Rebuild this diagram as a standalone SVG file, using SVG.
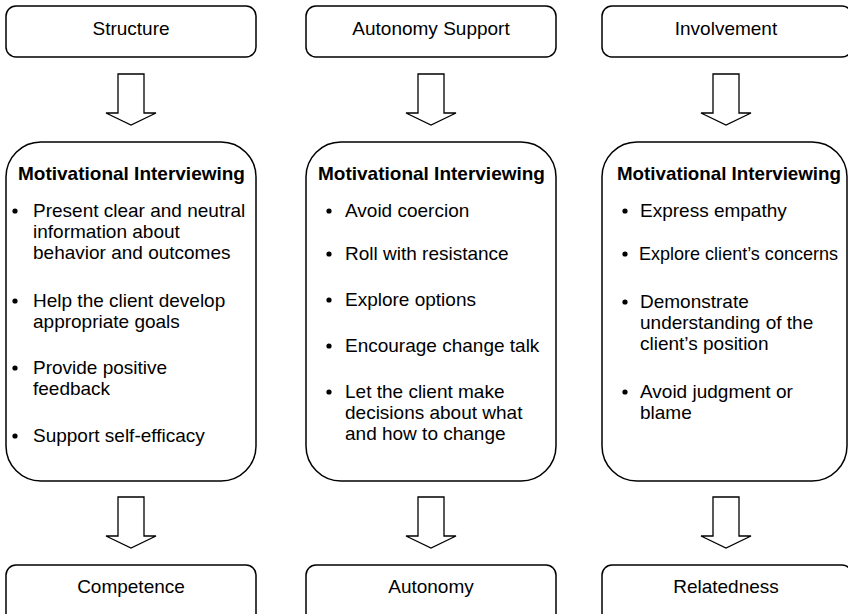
<svg xmlns="http://www.w3.org/2000/svg" width="848" height="614" viewBox="0 0 848 614">
<style>
  .box { fill: #fff; stroke: #000; stroke-width: 1.5; }
  .arrow { fill: #fff; stroke: #000; stroke-width: 1.3; stroke-linejoin: miter; }
  .lbl { font-family: "Liberation Sans", Arial, Helvetica, sans-serif; font-size: 19px; fill: #000; }
  .title { font-family: "Liberation Sans", Arial, Helvetica, sans-serif; font-size: 19px; font-weight: bold; fill: #000; }
  .c { text-anchor: middle; }
</style>
<defs>
  <path id="arr" d="M -13 0 L 13 0 L 13 39 L 25 39 L 0 51 L -25 39 L -13 39 Z"/>
</defs>
<rect width="848" height="614" fill="#fff"/>

<g id="structure">
  <rect class="box" x="6" y="6" width="250" height="51" rx="10"/>
  <text class="lbl c" x="131" y="35">Structure</text>
</g>
<g id="autonomy-support">
  <rect class="box" x="306" y="6" width="250" height="51" rx="10"/>
  <text class="lbl c" x="431" y="35">Autonomy Support</text>
</g>
<g id="involvement">
  <rect class="box" x="602" y="6" width="250" height="51" rx="10"/>
  <text class="lbl c" x="726" y="35">Involvement</text>
</g>

<g id="mi-structure">
  <rect class="box" x="6" y="142" width="250" height="339" rx="35"/>
  <text class="title" x="18" y="180">Motivational Interviewing</text>
  <g class="lbl">
    <circle cx="15" cy="211" r="2.6"/>
    <text x="33" y="217">Present clear and neutral</text>
    <text x="33" y="238">information about</text>
    <text x="33" y="259">behavior and outcomes</text>
    <circle cx="15" cy="301" r="2.6"/>
    <text x="33" y="307">Help the client develop</text>
    <text x="33" y="328">appropriate goals</text>
    <circle cx="15" cy="368" r="2.6"/>
    <text x="33" y="374">Provide positive</text>
    <text x="33" y="395">feedback</text>
    <circle cx="15" cy="436" r="2.6"/>
    <text x="33" y="442">Support self-efficacy</text>
  </g>
</g>

<g id="mi-autonomy">
  <rect class="box" x="306" y="142" width="250" height="339" rx="35"/>
  <text class="title" x="318" y="180">Motivational Interviewing</text>
  <g class="lbl">
    <circle cx="329" cy="211" r="2.6"/>
    <text x="345" y="217">Avoid coercion</text>
    <circle cx="329" cy="254" r="2.6"/>
    <text x="345" y="260">Roll with resistance</text>
    <circle cx="329" cy="300" r="2.6"/>
    <text x="345" y="306">Explore options</text>
    <circle cx="329" cy="346" r="2.6"/>
    <text x="345" y="352">Encourage change talk</text>
    <circle cx="329" cy="392" r="2.6"/>
    <text x="345" y="398">Let the client make</text>
    <text x="345" y="419">decisions about what</text>
    <text x="345" y="440">and how to change</text>
  </g>
</g>

<g id="mi-involvement">
  <rect class="box" x="602" y="142" width="245" height="339" rx="35"/>
  <text class="title" x="617" y="180" textLength="224" lengthAdjust="spacingAndGlyphs">Motivational Interviewing</text>
  <g class="lbl">
    <circle cx="625" cy="211" r="2.6"/>
    <text x="640" y="217">Express empathy</text>
    <circle cx="625" cy="254" r="2.6"/>
    <text x="639" y="260" textLength="199" lengthAdjust="spacingAndGlyphs">Explore client’s concerns</text>
    <circle cx="625" cy="302" r="2.6"/>
    <text x="640" y="308">Demonstrate</text>
    <text x="640" y="329">understanding of the</text>
    <text x="640" y="350">client’s position</text>
    <circle cx="625" cy="392" r="2.6"/>
    <text x="640" y="398">Avoid judgment or</text>
    <text x="640" y="419">blame</text>
  </g>
</g>

<g id="competence">
  <rect class="box" x="6" y="565" width="250" height="60" rx="10"/>
  <text class="lbl c" x="131" y="593">Competence</text>
</g>
<g id="autonomy">
  <rect class="box" x="306" y="565" width="250" height="60" rx="10"/>
  <text class="lbl c" x="431" y="593">Autonomy</text>
</g>
<g id="relatedness">
  <rect class="box" x="602" y="565" width="250" height="60" rx="10"/>
  <text class="lbl c" x="726" y="593">Relatedness</text>
</g>

<g id="connectors">
  <use href="#arr" class="arrow" transform="translate(131,74)"/>
  <use href="#arr" class="arrow" transform="translate(431,74)"/>
  <use href="#arr" class="arrow" transform="translate(726,74)"/>
  <use href="#arr" class="arrow" transform="translate(131,497)"/>
  <use href="#arr" class="arrow" transform="translate(431,497)"/>
  <use href="#arr" class="arrow" transform="translate(726,497)"/>
</g>
</svg>
